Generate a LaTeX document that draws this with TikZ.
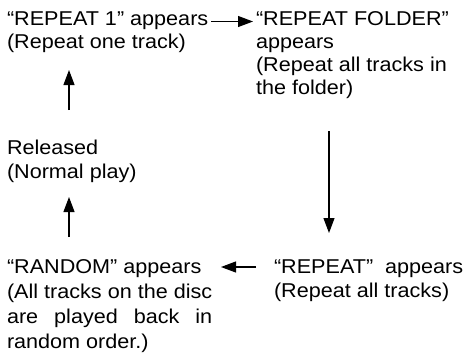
\documentclass[tikz,border=0pt]{standalone}
\usepackage{fontspec}
\setmainfont{Liberation Sans}[FakeStretch=1.08]
\usetikzlibrary{arrows.meta}
\newlength\disclen
\newcommand\bodyfont{\fontsize{20}{23.3}\selectfont}
\begin{document}
\settowidth{\disclen}{\bodyfont (All tracks on the disc}%
\begin{tikzpicture}[x=1pt,y=-1pt,
  txt/.style={inner sep=0pt,outer sep=0pt,anchor=base west,align=left,font=\bodyfont},
  arr/.style={line width=1.1pt,-{Triangle[length=15pt,width=11pt]}}]
\useasboundingbox (0,0) rectangle (466,357);
% base anchor = baseline of the last line
\node[txt] (A) at (7,48.3) {“REPEAT 1” appears\\(Repeat one track)};
\node[txt] (B) at (256,94.9) {“REPEAT FOLDER”\\appears\\(Repeat all tracks in\\the folder)};
\node[txt] (C) at (274,297) {“REPEAT”\ \ appears\\(Repeat all tracks)};
\node[txt,font=\fontsize{20}{25}\selectfont] (D) at (7,348) {“RANDOM” appears\\(All tracks on the disc\\\makebox[\disclen][s]{are played back in}\\random order.)};
\node[txt,font=\fontsize{20}{24}\selectfont] (E) at (7,178) {Released\\(Normal play)};
\coordinate (a1) at (211,21.5);
\coordinate (b0) at (253,21.5);
\coordinate (b1) at (329,131);
\coordinate (c0) at (329,233);
\coordinate (c1) at (256,267);
\coordinate (d0) at (221,267);
\coordinate (d1) at (69,237);
\coordinate (e0) at (69,197);
\coordinate (e1) at (69,110);
\coordinate (a0) at (69,70);
\draw[arr] (a1) -- (b0);
\draw[arr] (b1) -- (c0);
\draw[arr] (c1) -- (d0);
\draw[arr] (d1) -- (e0);
\draw[arr] (e1) -- (a0);
\end{tikzpicture}
\end{document}
